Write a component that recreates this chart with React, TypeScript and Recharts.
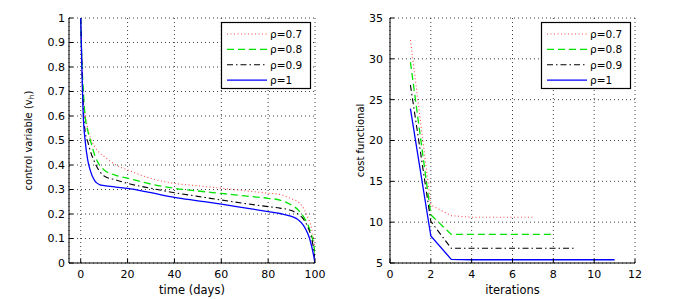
import React from 'react';
import { LineChart, Line, XAxis, YAxis, CartesianGrid, Label } from 'recharts';

// ---------- data ----------
const tDays = [0, 0.5, 1, 2, 3, 4, 6, 8, 10, 15, 20, 30, 40, 50, 60, 70, 80, 85, 90, 93, 95, 97, 98, 99, 100];
const controlRho07 = [1, 0.75, 0.68, 0.6, 0.55, 0.515, 0.475, 0.45, 0.435, 0.4, 0.38, 0.345, 0.325, 0.315, 0.305, 0.295, 0.285, 0.28, 0.262, 0.248, 0.225, 0.185, 0.16, 0.12, 0.06];
const controlRho08 = [1, 0.82, 0.72, 0.59, 0.54, 0.505, 0.44, 0.4, 0.38, 0.358, 0.346, 0.322, 0.305, 0.294, 0.284, 0.274, 0.264, 0.257, 0.236, 0.215, 0.19, 0.155, 0.13, 0.095, 0.04];
const controlRho09 = [1, 0.82, 0.66, 0.53, 0.495, 0.46, 0.41, 0.375, 0.355, 0.339, 0.325, 0.305, 0.287, 0.272, 0.257, 0.243, 0.23, 0.224, 0.214, 0.198, 0.18, 0.145, 0.12, 0.08, 0.02];
const controlRho10 = [1, 0.8, 0.62, 0.49, 0.42, 0.38, 0.335, 0.32, 0.316, 0.31, 0.305, 0.287, 0.268, 0.254, 0.24, 0.225, 0.21, 0.202, 0.19, 0.175, 0.155, 0.118, 0.09, 0.05, 0];

const iterations = [1, 2, 3, 4, 5, 6, 7, 8, 9, 10, 11];
const costRho07 = [32.3, 12.1, 10.8, 10.6, 10.6, 10.6, 10.6];
const costRho08 = [29.6, 10.9, 8.5, 8.5, 8.5, 8.5, 8.5, 8.5];
const costRho09 = [26.8, 10.1, 6.8, 6.8, 6.8, 6.8, 6.8, 6.8, 6.8];
const costRho10 = [23.9, 8.3, 5.45, 5.4, 5.4, 5.4, 5.4, 5.4, 5.4, 5.4, 5.4];

const timeTicks = [0, 20, 40, 60, 80, 100];
const controlTicks = [0, 0.1, 0.2, 0.3, 0.4, 0.5, 0.6, 0.7, 0.8, 0.9, 1];
const iterTicks = [0, 2, 4, 6, 8, 10, 12];
const costTicks = [5, 10, 15, 20, 25, 30, 35];

const seriesNames = ['ρ=0.7', 'ρ=0.8', 'ρ=0.9', 'ρ=1'];
const seriesKeys = ['r07', 'r08', 'r09', 'r10'];

// ---------- styles ----------
const seriesColors = ['#ff4a4a', '#00e400', '#000000', '#0000ff'];
const seriesDash = ['1 2.5', '7 4', '6 3 1.5 3', undefined];
const seriesWidth = [1.1, 1.3, 1.1, 1.3];
const FONT = '"DejaVu Sans", Verdana, sans-serif';

const controlData = tDays.map((t, i) => ({
  t,
  r07: controlRho07[i],
  r08: controlRho08[i],
  r09: controlRho09[i],
  r10: controlRho10[i],
}));
const costSeries = [costRho07, costRho08, costRho09, costRho10];
const costData = iterations.map((it, i) => {
  const row: Record<string, number | undefined> = { it };
  seriesKeys.forEach((k, s) => {
    row[k] = costSeries[s][i];
  });
  return row;
});

const tickStyle = { fill: '#000', fontSize: 11, fontFamily: FONT };

const YTitle = (props: any) => {
  const { viewBox, dxCenter, main, sub } = props;
  const cx = viewBox.x + dxCenter;
  const cy = viewBox.y + viewBox.height / 2;
  return (
    <text
      x={cx}
      y={cy}
      transform={`rotate(-90 ${cx} ${cy})`}
      textAnchor="middle"
      dominantBaseline="central"
      fontSize={10}
      fontFamily={FONT}
      fill="#000"
    >
      {main}
      {sub ? (
        <>
          <tspan dy={3} fontSize={7.5}>{sub}</tspan>
          <tspan dy={-3}>)</tspan>
        </>
      ) : null}
    </text>
  );
};

const LegendBox = ({ left, top }: { left: number; top: number }) => (
  <svg
    width={91}
    height={68}
    style={{ position: 'absolute', left, top, overflow: 'visible' }}
  >
    <rect x={0.5} y={0.5} width={89} height={66} fill="#fff" stroke="#000" strokeWidth={1.2} />
    {seriesNames.map((name, i) => {
      const cy = 12 + i * 15.4;
      return (
        <g key={name}>
          <line
            x1={6}
            x2={46}
            y1={cy}
            y2={cy}
            stroke={seriesColors[i]}
            strokeWidth={seriesWidth[i]}
            strokeDasharray={seriesDash[i]}
          />
          <text
            x={49}
            y={cy}
            dominantBaseline="central"
            fontSize={10.5}
            fontFamily={FONT}
            fill="#000"
          >
            {name}
          </text>
        </g>
      );
    })}
  </svg>
);

const renderLines = (curve: 'monotone' | 'linear') =>
  seriesKeys.map((k, i) => (
    <Line
      key={k}
      type={curve}
      dataKey={k}
      name={seriesNames[i]}
      stroke={seriesColors[i]}
      strokeWidth={seriesWidth[i]}
      strokeDasharray={seriesDash[i]}
      dot={false}
      activeDot={false}
      isAnimationActive={false}
      connectNulls={false}
    />
  ));

export default function App() {
  return (
    <div style={{ position: 'absolute', left: 0, top: 0, width: 675, height: 299, background: '#fff' }}>
      <div style={{ position: 'absolute', left: 0, top: 0 }}>
        <LineChart width={340} height={299} data={controlData} margin={{ top: 18, right: 25, bottom: 0, left: 0 }}>
          <CartesianGrid stroke="#2a2a2a" strokeDasharray="1 3" strokeWidth={0.9} />
          <XAxis
            dataKey="t"
            type="number"
            domain={[-5, 100]}
            ticks={timeTicks}
            interval={0}
            allowDataOverflow
            height={36}
            tickSize={-4}
            tickMargin={11}
            stroke="#000"
            tick={tickStyle}
          >
            <Label value="time (days)" position="insideBottom" offset={5} fontSize={11.5} fontFamily={FONT} fill="#000" />
          </XAxis>
          <XAxis
            xAxisId="top"
            orientation="top"
            mirror
            dataKey="t"
            type="number"
            domain={[-5, 100]}
            ticks={timeTicks}
            interval={0}
            allowDataOverflow
            height={0}
            tickSize={4}
            tick={false}
            stroke="#000"
          />
          <YAxis
            type="number"
            domain={[0, 1]}
            ticks={controlTicks}
            interval={0}
            allowDataOverflow
            width={69}
            tickSize={-4}
            tickMargin={8}
            stroke="#000"
            tick={tickStyle}
          >
            <Label content={(p: any) => <YTitle {...p} dxCenter={28} main="control variable (v" sub="h" />} />
          </YAxis>
          <YAxis
            yAxisId="right"
            orientation="right"
            mirror
            type="number"
            domain={[0, 1]}
            ticks={controlTicks}
            interval={0}
            width={0}
            tickSize={4}
            tick={false}
            stroke="#000"
          />
          {renderLines('monotone')}
        </LineChart>
      </div>
      <LegendBox left={221} top={22} />

      <div style={{ position: 'absolute', left: 340, top: 0 }}>
        <LineChart width={335} height={299} data={costData} margin={{ top: 18, right: 40, bottom: 0, left: 0 }}>
          <CartesianGrid stroke="#2a2a2a" strokeDasharray="1 3" strokeWidth={0.9} />
          <XAxis
            dataKey="it"
            type="number"
            domain={[0, 12]}
            ticks={iterTicks}
            interval={0}
            allowDataOverflow
            height={36}
            tickSize={-4}
            tickMargin={11}
            stroke="#000"
            tick={tickStyle}
          >
            <Label value="iterations" position="insideBottom" offset={5} fontSize={11.5} fontFamily={FONT} fill="#000" />
          </XAxis>
          <XAxis
            xAxisId="top"
            orientation="top"
            mirror
            dataKey="it"
            type="number"
            domain={[0, 12]}
            ticks={iterTicks}
            interval={0}
            height={0}
            tickSize={4}
            tick={false}
            stroke="#000"
          />
          <YAxis
            type="number"
            domain={[5, 35]}
            ticks={costTicks}
            interval={0}
            allowDataOverflow
            width={50}
            tickSize={-4}
            tickMargin={11}
            stroke="#000"
            tick={tickStyle}
          >
            <Label content={(p: any) => <YTitle {...p} dxCenter={20} main="cost functional" />} />
          </YAxis>
          <YAxis
            yAxisId="right"
            orientation="right"
            mirror
            type="number"
            domain={[5, 35]}
            ticks={costTicks}
            interval={0}
            width={0}
            tickSize={4}
            tick={false}
            stroke="#000"
          />
          {renderLines('linear')}
        </LineChart>
      </div>
      <LegendBox left={541} top={22} />
    </div>
  );
}
